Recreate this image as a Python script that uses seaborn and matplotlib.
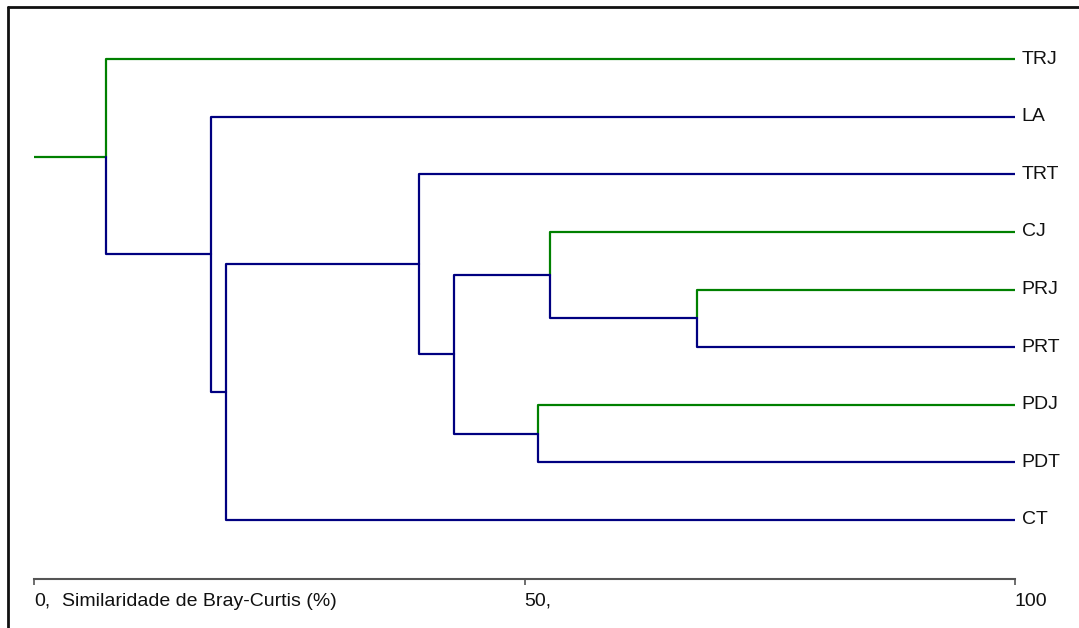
import matplotlib
matplotlib.use("Agg")
import matplotlib.pyplot as plt
from matplotlib.lines import Line2D
from matplotlib.transforms import blended_transform_factory, offset_copy
import numpy as np
import pandas as pd
import seaborn as sns

# Leaves (top to bottom) and agglomeration steps (Bray-Curtis similarity, %)
leaves = ["TRJ", "LA", "TRT", "CJ", "PRJ", "PRT", "PDJ", "PDT", "CT"]
leaf_group = ["J", "T", "T", "J", "J", "T", "J", "T", "T"]
# node ids: leaves are 0..8, each merge creates node 9, 10, ...
merge_a = [4, 6, 3, 11, 2, 13, 1, 0]
merge_b = [5, 7, 9, 10, 12, 8, 14, 15]
similarity = [67.6, 51.4, 52.6, 42.8, 39.2, 19.6, 18.0, 7.3]

x_ticks = [0, 50, 100]
x_tick_labels = ["0,", "50,", "100"]
x_title = "Similaridade de Bray-Curtis (%)"

GREEN = "#008000"
NAVY = "#000080"
FS = 14

sns.set_theme(style="white")
plt.rcParams["font.family"] = ["Liberation Sans", "DejaVu Sans"]

# Dendrogram layout: leaves sit at similarity 100, nodes at the mean height of children
pos_x = {i: 100.0 for i in range(len(leaves))}
pos_y = {i: float(i) for i in range(len(leaves))}
group = {i: leaf_group[i] for i in range(len(leaves))}
rows = []
seg = 0
for k, (a, b, s) in enumerate(zip(merge_a, merge_b, similarity)):
    node = len(leaves) + k
    pos_x[node] = s
    pos_y[node] = (pos_y[a] + pos_y[b]) / 2
    group[node] = "T"
    for child in (a, b):
        g = group[child]
        for xx, yy in [(pos_x[child], pos_y[child]), (s, pos_y[child]), (s, pos_y[node])]:
            rows.append({"seg": seg, "x": xx, "y": yy, "grupo": g})
        seg += 1
root = len(leaves) + len(merge_a) - 1
for xx in (0.0, pos_x[root]):
    rows.append({"seg": seg, "x": xx, "y": pos_y[root], "grupo": "J"})
segments = pd.DataFrame(rows)

W, H = 1079, 628
fig = plt.figure(figsize=(W / 100, H / 100), dpi=100)
ax_left, ax_right = 34 / W, 1015 / W
ax_bottom, ax_top = 1 - 579 / H, 1 - 30 / H
ax = fig.add_axes([ax_left, ax_bottom, ax_right - ax_left, ax_top - ax_bottom])

sns.lineplot(data=segments, x="x", y="y", units="seg", estimator=None, sort=False,
             hue="grupo", palette={"J": GREEN, "T": NAVY}, linewidth=1.6,
             legend=False, ax=ax)

step = 57.625
y_top = (30 - 59) / step
y_bot = (579 - 59) / step
ax.set_ylim(y_bot, y_top)
ax.set_xlim(0, 100)

for i, name in enumerate(leaves):
    ax.text(100.7, i, name, ha="left", va="center", fontsize=FS, color="#111111",
            clip_on=False)

for side in ("left", "right", "top"):
    ax.spines[side].set_visible(False)
ax.spines["bottom"].set_color("#555555")
ax.spines["bottom"].set_linewidth(1.5)
ax.set_yticks([])
ax.set_xticks(x_ticks)
ax.set_xticklabels(x_tick_labels, ha="left", fontsize=FS, color="#111111")
ax.tick_params(axis="x", direction="out", length=4, width=1.2, color="#555555", pad=6,
               bottom=True)
ax.set_xlabel("")
ax.set_ylabel("")

# Axis title sits on the tick-label row, just right of the "0," label
title_tr = offset_copy(blended_transform_factory(ax.transData, ax.transAxes),
                       fig=fig, x=0, y=-10, units="points")
ax.text(2.9, 0, x_title, transform=title_tr, ha="left", va="top",
        fontsize=FS, color="#111111", clip_on=False)

# Outer frame (left and top edges)
fig.add_artist(Line2D([8 / W, 8 / W], [0, 1 - 7 / H], color="#111111", lw=2))
fig.add_artist(Line2D([8 / W, 1], [1 - 7 / H, 1 - 7 / H], color="#111111", lw=2))

fig.savefig("out.png", dpi=100)
